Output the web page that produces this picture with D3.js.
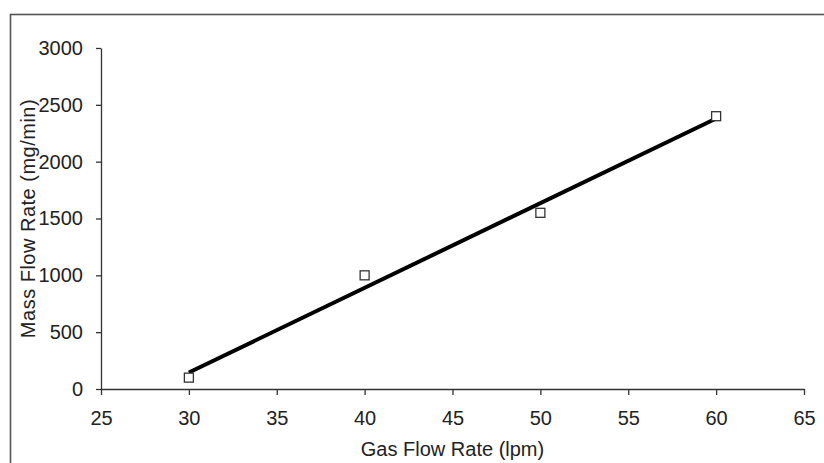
<!DOCTYPE html>
<html>
<head>
<meta charset="utf-8">
<script src="https://cdn.jsdelivr.net/npm/d3@7"></script>
<style>
  body { margin: 0; background: #fff; }
  svg { display: block; font-family: "Liberation Sans", Arial, sans-serif; }
</style>
</head>
<body>
<script>
const gasFlow = [30, 40, 50, 60];
const massFlow = [100, 1000, 1550, 2400];
const xTicks = [25, 30, 35, 40, 45, 50, 55, 60, 65];
const yTicks = [0, 500, 1000, 1500, 2000, 2500, 3000];

const w = 824;
const h = 463;
const plotLeft = 101, plotRight = 804, plotTop = 48, plotBottom = 389;

const svg = d3.select("body")
              .append("svg")
              .attr("width", w)
              .attr("height", h);

// outer frame
svg.append("rect")
   .attr("x", 10.5)
   .attr("y", 14.5)
   .attr("width", 830)
   .attr("height", 470)
   .attr("fill", "none")
   .attr("stroke", "#555")
   .attr("stroke-width", 1.6);

const xScale = d3.scaleLinear().domain([25, 65]).range([plotLeft, plotRight]);
const yScale = d3.scaleLinear().domain([0, 3000]).range([plotBottom, plotTop]);

const xAxis = d3.axisBottom(xScale).tickValues(xTicks).tickFormat(d3.format("d"))
                .tickSize(6).tickPadding(16).tickSizeOuter(0);
const yAxis = d3.axisLeft(yScale).tickValues(yTicks).tickFormat(d3.format("d"))
                .tickSize(5).tickPadding(13).tickSizeOuter(0);

const gx = svg.append("g")
   .attr("transform", `translate(0, ${plotBottom})`)
   .call(xAxis);
const gy = svg.append("g")
   .attr("transform", `translate(${plotLeft}, 0)`)
   .call(yAxis);

[gx, gy].forEach(g => {
  g.attr("font-size", 20).attr("font-family", "'Liberation Sans', Arial, sans-serif");
  g.select(".domain").attr("stroke", "#333").attr("stroke-width", 1.3);
  g.selectAll(".tick line").attr("stroke", "#333").attr("stroke-width", 1.3);
  g.selectAll(".tick text").attr("fill", "#222");
});

// least squares trendline
const mx = d3.mean(gasFlow), my = d3.mean(massFlow);
const slope = d3.sum(gasFlow, (x, i) => (x - mx) * (massFlow[i] - my)) / d3.sum(gasFlow, x => (x - mx) ** 2);
const intercept = my - slope * mx;
const xExt = d3.extent(gasFlow);

svg.append("line")
   .attr("x1", xScale(xExt[0]))
   .attr("y1", yScale(intercept + slope * xExt[0]))
   .attr("x2", xScale(xExt[1]))
   .attr("y2", yScale(intercept + slope * xExt[1]))
   .attr("stroke", "#000")
   .attr("stroke-width", 4);

// data points
svg.selectAll("rect.pt")
   .data(gasFlow)
   .enter()
   .append("rect")
   .attr("class", "pt")
   .attr("x", (d) => xScale(d) - 4.5)
   .attr("y", (d, i) => yScale(massFlow[i]) - 4.5)
   .attr("width", 9)
   .attr("height", 9)
   .attr("fill", "#fff")
   .attr("stroke", "#333")
   .attr("stroke-width", 1.3);

// axis titles
svg.append("text")
   .text("Gas Flow Rate (lpm)")
   .attr("x", (plotLeft + plotRight) / 2)
   .attr("y", 456)
   .attr("text-anchor", "middle")
   .attr("fill", "#222")
   .style("font-size", "20px");

svg.append("text")
   .text("Mass Flow Rate (mg/min)")
   .attr("transform", `translate(35, ${(plotTop + plotBottom) / 2}) rotate(-90)`)
   .attr("text-anchor", "middle")
   .attr("fill", "#222")
   .style("letter-spacing", "0.5px")
   .style("font-size", "20px");
</script>
</body>
</html>
